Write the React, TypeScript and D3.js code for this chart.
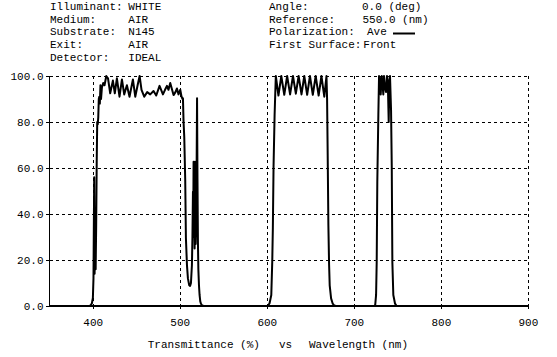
import React from "react";
import * as d3 from "d3";

const W = 557;
const H = 357;

const wavelengths: number[] = [
  350, 396, 397.5, 398.5, 399.6, 400.3, 401.1, 401.6, 402.3, 402.8, 403.4, 404.0, 404.6, 405.2, 405.8,
  406.4, 407.0, 407.6, 408.3, 409.0, 410.0, 411.5, 413.0, 415.0, 417.0, 419.5, 422.6, 424.8, 427.2,
  430.2, 433.0, 435.6, 438.7, 441.7, 445.6, 448.3, 451.0, 453.3, 455.5, 458.6, 462.0, 465.5, 469.3,
  472.4, 476.2, 480.1, 482.5, 484.7, 486.5, 488.5, 492.3, 494.5, 496.2, 498.0, 500.0, 501.5, 502.5,
  503.1, 503.8, 504.6, 505.7, 506.5, 507.7, 508.8, 510.3, 511.3, 512.3, 513.4, 514.0, 514.6, 515.0,
  515.3, 515.7, 516.1, 516.5, 516.9, 517.3, 517.7, 518.3, 518.8, 519.3, 519.8, 520.3, 520.8, 521.5,
  522.2, 523.0, 523.8, 525.0, 527.0,
  600.0, 601.0, 602.6, 604.6, 605.7, 606.4, 607.2, 608.4, 609.1, 609.8, 612.8, 616.1, 619.5, 622.8,
  626.2, 629.5, 632.8, 636.0, 639.3, 642.5, 645.8, 649.0, 652.3, 655.6, 659.0, 662.2, 665.5, 668.0,
  668.7, 669.4, 670.2, 671.0, 671.7, 673.3, 675.2, 677.0, 679.0,
  723.0, 724.0, 725.0, 725.7, 726.4, 727.6, 728.4, 729.3, 730.3, 731.5, 732.5, 733.3, 734.1, 735.2,
  736.4, 737.5, 738.5, 739.5, 740.3, 741.0, 742.2, 743.0, 743.7, 744.8, 746.8, 748.7, 900,
];

const transmittance: number[] = [
  0, 0, 0.5, 1.2, 3.5, 12, 56, 14, 41, 16, 35, 62, 80, 79, 82,
  90, 91, 88, 96, 90, 95, 97, 96, 100, 99, 92.5, 98, 92.5, 99,
  91, 98.5, 92, 96, 91, 98.5, 91, 96, 100, 94, 91, 93, 92, 93.5,
  91.5, 95.7, 92, 94, 95.7, 94, 97, 91.7, 93, 94.6, 92, 94, 91, 90,
  90.3, 80, 73.6, 55, 29.6, 17.8, 12, 9, 8.7, 10, 17.8, 30, 49.7, 40,
  62.7, 30, 44, 25, 62.7, 35, 27, 35, 60, 90.3, 55, 28, 16, 9,
  4.8, 2, 1, 0.3, 0,
  0, 0.2, 1.2, 4.8, 19.3, 34, 61, 83, 91.7, 100, 91.5, 100, 91.8, 100,
  92, 100, 92.3, 100, 92, 100, 91.8, 100, 91.8, 100, 91.5, 100, 91, 100,
  90, 65.6, 35, 18, 9, 3.3, 1, 0.2, 0,
  0, 0.5, 4.8, 19, 54, 83, 100, 99, 92, 100, 96, 92, 100, 95,
  93, 100, 97, 80, 98, 100, 85, 61, 19, 4.8, 1, 0, 0,
];

const xTicks: number[] = [400, 500, 600, 700, 800, 900];
const yTicks: number[] = [0, 20, 40, 60, 80, 100];

const headerLeft: [string, string][] = [
  ["Illuminant:", "WHITE"],
  ["Medium:", "AIR"],
  ["Substrate:", "N145"],
  ["Exit:", "AIR"],
  ["Detector:", "IDEAL"],
];
const headerRight: [string, string][] = [
  ["Angle:", "0.0 (deg)"],
  ["Reference:", "550.0 (nm)"],
  ["Polarization:", "Ave"],
  ["First Surface:", "Front"],
];

const FONT = "'Liberation Mono', 'Courier New', monospace";

export default function App() {
  const x = d3.scaleLinear().domain([350, 900]).range([49.7, 528.4]);
  const y = d3.scaleLinear().domain([0, 100]).range([306, 76]);

  const data = wavelengths.map((w, i) => [w, transmittance[i]] as [number, number]);
  const line = d3
    .line<[number, number]>()
    .x((d) => x(d[0]))
    .y((d) => y(d[1]));

  const rowY = [10, 22.7, 35.3, 48, 60.7];
  const rightValX = [362, 362.5, 367, 363.3];

  const px = (v: number) => Math.round(v) + 0.5;

  return (
    <svg
      width={W}
      height={H}
      style={{ position: "absolute", left: 0, top: 0, background: "#fff" }}
      fontFamily={FONT}
      fontSize={11}
    >
      <rect x={0} y={0} width={W} height={H} fill="#fff" />
      {headerLeft.map(([k, v], i) => (
        <g key={"hl" + i}>
          <text x={50} y={rowY[i]} fill="#000">{k}</text>
          <text x={128.3} y={rowY[i]} fill="#000">{v}</text>
        </g>
      ))}
      {headerRight.map(([k, v], i) => (
        <g key={"hr" + i}>
          <text x={269} y={rowY[i]} fill="#000">{k}</text>
          <text x={rightValX[i]} y={rowY[i]} fill="#000">{v}</text>
        </g>
      ))}
      <line x1={393} x2={415} y1={33.5} y2={33.5} stroke="#000" strokeWidth={2} />

      {/* grid */}
      {yTicks.filter((t) => t > 0).map((t) => (
        <line
          key={"gy" + t}
          x1={50}
          x2={528.5}
          y1={px(y(t)) - 0.5 + 0.5}
          y2={px(y(t))}
          stroke="#000"
          strokeWidth={1}
          strokeDasharray="3,3"
          shapeRendering="crispEdges"
        />
      ))}
      {xTicks.map((t) => (
        <line
          key={"gx" + t}
          x1={px(x(t))}
          x2={px(x(t))}
          y1={76}
          y2={306}
          stroke="#000"
          strokeWidth={1}
          strokeDasharray="3,3"
          shapeRendering="crispEdges"
        />
      ))}

      {/* axes */}
      <line x1={49.5} x2={49.5} y1={76} y2={307} stroke="#000" strokeWidth={1} shapeRendering="crispEdges" />
      <line x1={49} x2={529} y1={306} y2={306} stroke="#000" strokeWidth={2} shapeRendering="crispEdges" />
      {yTicks.map((t) => (
        <line key={"ty" + t} x1={46} x2={49} y1={px(y(t))} y2={px(y(t))} stroke="#000" strokeWidth={1} shapeRendering="crispEdges" />
      ))}
      {xTicks.map((t) => (
        <line key={"tx" + t} x1={px(x(t))} x2={px(x(t))} y1={306} y2={309} stroke="#000" strokeWidth={1} shapeRendering="crispEdges" />
      ))}

      {/* tick labels */}
      {yTicks.map((t) => (
        <text key={"ly" + t} x={43.5} y={y(t) + 4} textAnchor="end" fill="#000">
          {t.toFixed(1)}
        </text>
      ))}
      {xTicks.map((t) => (
        <text key={"lx" + t} x={x(t)} y={325.5} textAnchor="middle" fill="#000">
          {String(t)}
        </text>
      ))}

      {/* title */}
      <text x={147.7} y={347.5} fill="#000">Transmittance (%)</text>
      <text x={279} y={347.5} fill="#000">vs</text>
      <text x={309} y={347.5} fill="#000">Wavelength (nm)</text>

      {/* curve */}
      <path d={line(data) || ""} fill="none" stroke="#000" strokeWidth={2} strokeLinejoin="round" />
    </svg>
  );
}
